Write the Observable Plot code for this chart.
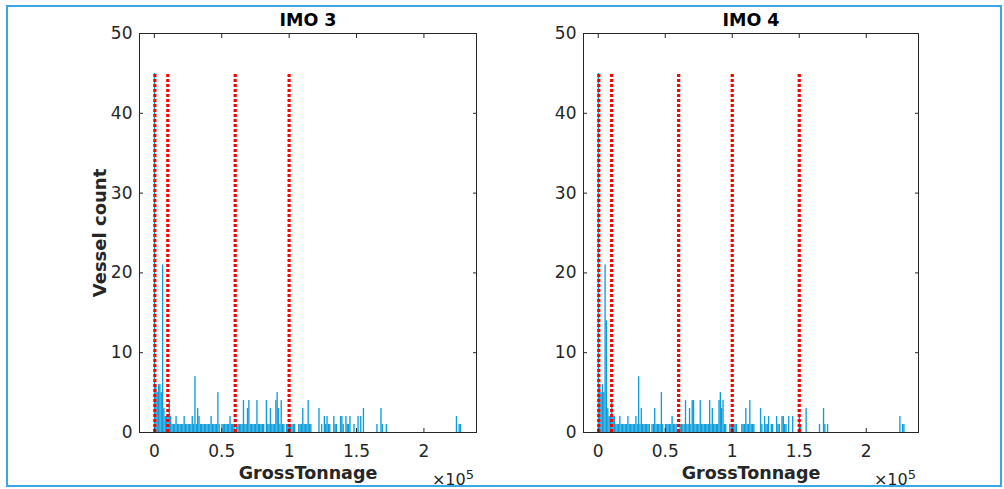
<!DOCTYPE html>
<html><head><meta charset="utf-8">
<script src="https://cdn.jsdelivr.net/npm/d3@7"></script>
<script src="https://cdn.jsdelivr.net/npm/@observablehq/plot@0.6"></script>
<style>
body{margin:0;background:#fff;}
#wrap{position:relative;width:1004px;height:489px;overflow:hidden;background:#fff;font-family:"DejaVu Sans",sans-serif;}
#border{position:absolute;left:6px;top:5px;width:992px;height:478px;border:2px solid #3aa6e4;box-sizing:content-box;}
.panel{position:absolute;top:0;}
.exp{position:absolute;top:471px;font-size:16px;line-height:18px;color:#262626;white-space:nowrap;}
.exp sup{font-size:13px;position:relative;top:-6px;vertical-align:baseline;}
</style></head><body><div id="wrap"><div id="border"></div></div>
<script>
// Histogram bins (thousands of GT, bin width 1000 GT) and vessel counts
const binWidth = 1000;
const imo3Bins = [0,1,2,3,4,5,6,7,8,9,10,11,12,13,14,15,16,17,18,19,20,21,22,23,24,25,26,27,28,29,30,31,32,33,34,35,36,37,38,39,40,41,42,43,44,45,46,47,48,50,51,52,53,54,55,56,57,58,59,61,62,63,64,65,66,67,68,69,70,71,72,73,74,75,76,77,78,79,80,81,83,84,85,86,87,88,89,90,91,92,93,94,95,96,98,99,100,101,102,103,104,107,108,109,110,111,112,113,114,115,116,122,124,126,127,128,129,130,133,134,135,138,139,140,142,143,144,145,148,151,153,155,165,168,169,172,224,226,227];
const imo3Counts = [45,6,5,6,6,5,21,3,2,2,2,4,2,1,1,1,2,1,1,1,1,1,2,1,1,1,1,1,2,1,7,1,3,2,1,1,1,1,1,1,1,1,2,1,1,1,1,5,1,1,1,1,1,1,1,2,1,1,1,1,1,1,1,1,4,1,1,3,4,1,1,1,1,1,4,1,1,1,1,1,4,1,1,3,1,1,1,4,5,3,1,4,1,1,1,1,1,1,1,1,1,1,1,1,3,1,1,1,4,1,1,3,1,2,1,2,1,1,2,1,1,2,2,1,2,1,1,2,1,2,2,3,1,3,1,1,2,1,1];
const imo4Bins = [0,1,2,3,4,5,6,7,8,9,10,11,12,13,14,15,16,17,18,19,20,21,22,23,24,25,26,27,28,29,30,31,32,33,34,35,36,37,38,40,41,42,43,44,45,46,47,48,50,51,52,53,54,55,56,57,58,61,62,63,64,65,66,67,68,69,70,71,72,73,74,75,76,77,78,79,80,81,82,83,84,85,86,87,88,89,90,91,92,93,94,95,98,99,100,101,102,103,107,108,109,110,111,112,113,114,115,116,121,122,124,125,126,127,129,130,133,134,135,137,138,139,140,142,145,150,151,155,165,168,169,171,225,227,228];
const imo4Counts = [45,6,5,6,5,21,14,3,2,2,4,2,2,1,1,1,2,1,1,1,1,1,2,1,1,1,1,1,2,1,7,1,3,1,1,1,1,1,1,1,1,3,1,1,1,1,5,1,1,1,1,1,1,2,1,1,1,1,1,1,1,4,1,1,3,1,4,4,1,1,1,1,4,1,1,1,1,1,1,4,1,3,1,1,1,1,4,5,3,4,1,1,1,1,1,1,1,1,1,1,1,3,1,1,4,1,1,1,3,1,2,1,1,2,1,1,2,1,1,2,2,1,1,2,2,2,1,3,1,3,1,1,2,1,1];
// Red dotted tonnage thresholds (GT)
const imo3Limits = [400, 10000, 60000, 100000];
const imo4Limits = [400, 10000, 60000, 100000, 150000];
// Axes
const xTicks = [0, 50000, 100000, 150000, 200000];
const xTickLabels = ["0", "0.5", "1", "1.5", "2"];
const yTicks = [0, 10, 20, 30, 40, 50];
const xDomain = [-11000, 239000];
const yDomain = [0, 50];
const titles = ["IMO 3", "IMO 4"];
const xLabel = "GrossTonnage";
const yLabel = "Vessel count";
const expLabel = "10";
const expPower = "5";

const ink = "#262626";
function panel(title, bins, counts, limits, left, marginLeft, marginRight, withYLabel) {
  const data = bins.map((b, i) => ({x1: b * binWidth, x2: (b + 1) * binWidth, count: counts[i]}));
  const top = d3.max(counts);
  const marks = [
    Plot.rectY(data, {x1: "x1", x2: "x2", y: "count", fill: "#0e9ddb", inset: 0}),
    Plot.ruleX(limits, {x: d => d, y1: 0, y2: top, stroke: "#ff0000", strokeWidth: 3.2, strokeDasharray: "3,2"}),
    Plot.frame({stroke: ink, strokeWidth: 1}),
    Plot.axisX({anchor: "bottom", ticks: xTicks, tickFormat: d => xTickLabels[xTicks.indexOf(d)], tickSize: -4, tickPadding: 16, fontSize: 17, label: null, stroke: ink}),
    Plot.axisX({anchor: "top", ticks: xTicks, tickFormat: () => "", tickSize: -4, label: null, stroke: ink}),
    Plot.axisY({anchor: "left", ticks: yTicks, tickSize: -4, tickPadding: 11, fontSize: 17, label: null, stroke: ink}),
    Plot.axisY({anchor: "right", ticks: yTicks, tickFormat: () => "", tickSize: -4, label: null, stroke: ink}),
    Plot.text([title], {frameAnchor: "top", dy: -8, lineAnchor: "bottom", fontWeight: "bold", fontSize: 17.5, fill: "#000"}),
    Plot.text([xLabel], {frameAnchor: "bottom", dy: 46, lineAnchor: "bottom", fontWeight: "bold", fontSize: 17.5, fill: ink})
  ];
  if (withYLabel) marks.push(Plot.text([yLabel], {frameAnchor: "left", dx: -39, rotate: -90, textAnchor: "middle", lineAnchor: "middle", fontWeight: "bold", fontSize: 18, fill: ink}));
  const svg = Plot.plot({
    width: 502, height: 489,
    marginTop: 33, marginBottom: 57, marginLeft, marginRight,
    x: {domain: xDomain},
    y: {domain: yDomain},
    style: {fontFamily: "DejaVu Sans", fontSize: "16px", color: ink, background: "transparent", overflow: "visible"},
    marks
  });
  svg.classList.add("panel");
  svg.style.left = left + "px";
  document.getElementById("wrap").appendChild(svg);
  const e = document.createElement("div");
  e.className = "exp";
  e.style.right = (1004 - (left + 502 - marginRight) + 2) + "px";
  e.innerHTML = "\u00d7" + expLabel + "<sup>" + expPower + "</sup>";
  document.getElementById("wrap").appendChild(e);
}
panel(titles[0], imo3Bins, imo3Counts, imo3Limits, 0, 139, 26, true);
panel(titles[1], imo4Bins, imo4Counts, imo4Limits, 502, 81, 86, false);
</script></body></html>
